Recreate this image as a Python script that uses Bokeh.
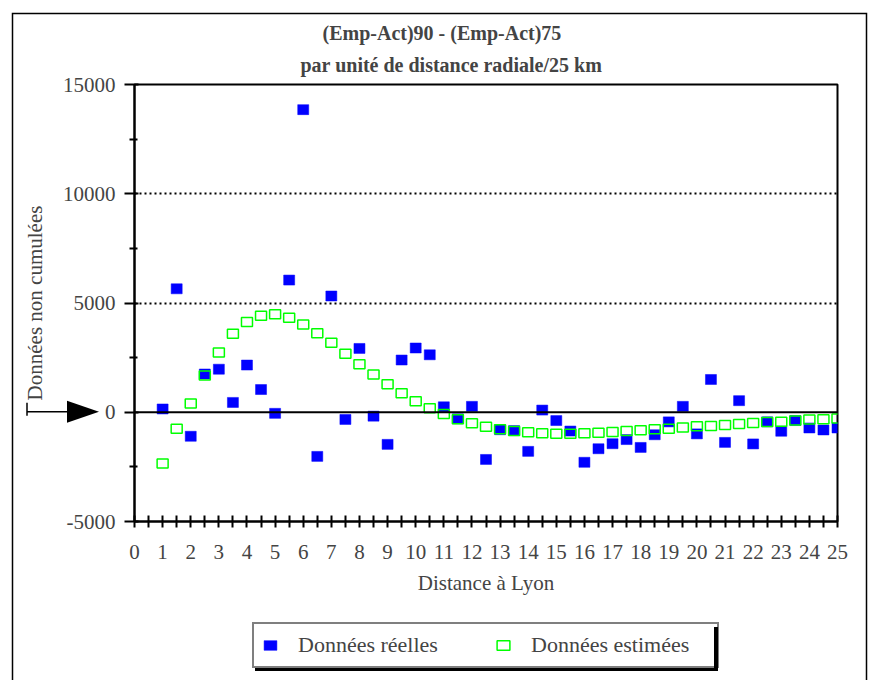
from bokeh.plotting import figure
from bokeh.layouts import column
from bokeh.models import (FixedTicker, Span, Legend, LegendItem, Title, Range1d,
                          ColumnDataSource, PrintfTickFormatter, InlineStyleSheet)
from bokeh.embed import file_html
from bokeh.resources import INLINE

# ---- data ----
distance = [1, 1.5, 2, 2.5, 3, 3.5, 4, 4.5, 5, 5.5, 6, 6.5, 7, 7.5, 8, 8.5, 9, 9.5,
            10, 10.5, 11, 11.5, 12, 12.5, 13, 13.5, 14, 14.5, 15, 15.5, 16, 16.5,
            17, 17.5, 18, 18.5, 19, 19.5, 20, 20.5, 21, 21.5, 22, 22.5, 23, 23.5,
            24, 24.5, 25]
reelles = [150, 5650, -1100, 1750, 1970, 450, 2160, 1040, -50, 6050, 13850, -2020,
           5320, -330, 2920, -180, -1470, 2390, 2940, 2630, 250, -300, 270, -2160,
           -800, -840, -1790, 100, -380, -860, -2290, -1670, -1440, -1250, -1610,
           -1030, -440, 270, -990, 1500, -1380, 530, -1450, -440, -870, -380, -720,
           -810, -720]
estimees = [-2340, -750, 400, 1680, 2740, 3590, 4130, 4420, 4480, 4330, 4020, 3620,
            3180, 2680, 2200, 1730, 1280, 870, 505, 185, -75, -320, -505, -660,
            -780, -855, -920, -960, -980, -980, -960, -935, -900, -855, -825, -780,
            -750, -700, -640, -630, -585, -535, -490, -445, -430, -380, -335, -320,
            -290]
x_tick_values = list(range(0, 26))
x_minor_ticks = [v + 0.5 for v in range(0, 25)]
y_tick_values = [-5000, 0, 5000, 10000, 15000]
y_minor_ticks = [-2500, 2500, 7500, 12500]
grid_values = [5000, 10000]

title1 = "(Emp-Act)90 - (Emp-Act)75"
title2 = "par unité de distance radiale/25 km"
x_label = "Distance à Lyon"
y_label = "Données non cumulées"
name_reel = "Données réelles"
name_est = "Données estimées"

FONT = "Liberation Serif"
W, H = 874, 680
H_MAIN, H_LEG = 600, 80
LEFT, RIGHT, TOP = 134, 37, 84
BOTTOM = H_MAIN - 521
X0, X1, Y0, Y1 = 0, 25, -5000, 15000
BLUE, GREEN = "#0000ff", "#00ff00"

src = ColumnDataSource(dict(x=distance, reel=reelles, est=estimees))

p = figure(width=W, height=H_MAIN, output_backend="svg", toolbar_location=None,
           x_range=Range1d(X0, X1), y_range=Range1d(Y0, Y1),
           min_border_left=LEFT, min_border_right=RIGHT, min_border_top=TOP,
           min_border_bottom=BOTTOM)
p.background_fill_color = "white"
p.border_fill_color = "white"
p.outline_line_color = "black"
p.outline_line_width = 2

# grid
p.xgrid.visible = False
p.ygrid.ticker = FixedTicker(ticks=grid_values)
p.ygrid.grid_line_color = "black"
p.ygrid.grid_line_width = 2
p.ygrid.grid_line_dash = "2 3"

# zero line
p.add_layout(Span(location=0, dimension="width", line_color="black", line_width=2))

# axes
xa = p.xaxis[0]
xa.ticker = FixedTicker(ticks=x_tick_values, minor_ticks=x_minor_ticks)
xa.axis_line_width = 2
xa.major_tick_in = 6
xa.major_tick_out = 6
xa.minor_tick_in = 6
xa.minor_tick_out = 6
xa.major_tick_line_width = 2
xa.minor_tick_line_width = 2
xa.major_label_text_font = FONT
xa.major_label_text_font_size = "21px"
xa.major_label_standoff = 17
xa.axis_label = x_label
xa.axis_label_text_font = FONT
xa.axis_label_text_font_style = "normal"
xa.axis_label_text_font_size = "21px"
xa.axis_label_standoff = 9

ya = p.yaxis[0]
ya.ticker = FixedTicker(ticks=y_tick_values, minor_ticks=y_minor_ticks)
ya.formatter = PrintfTickFormatter(format="%d")
ya.axis_line_width = 2
ya.major_tick_in = 4
ya.major_tick_out = 10
ya.minor_tick_in = 3
ya.minor_tick_out = 5
ya.major_tick_line_width = 2
ya.minor_tick_line_width = 2
ya.major_label_text_font = FONT
ya.major_label_text_font_size = "21px"
ya.major_label_standoff = 9
ya.axis_label = y_label
ya.axis_label_text_font = FONT
ya.axis_label_text_font_style = "normal"
ya.axis_label_text_font_size = "21px"
ya.axis_label_standoff = 13

# data
reel_style = dict(width=11, height=10, width_units="screen", height_units="screen",
                  fill_color=BLUE, line_color=BLUE, line_width=0.5)
est_style = dict(width=11, height=9, width_units="screen", height_units="screen",
                 fill_color=None, line_color=GREEN, line_width=1.5)
p.rect("x", "reel", source=src, **reel_style)
p.rect("x", "est", source=src, **est_style)

# titles (nearest to frame first)
p.add_layout(Title(text=title2, align="left", offset=166, standoff=17,
                   text_font=FONT, text_font_style="bold", text_font_size="20px"), "above")
p.add_layout(Title(text=title1, align="left", offset=188, standoff=0,
                   text_font=FONT, text_font_style="bold", text_font_size="20px"), "above")

# ---- legend strip under the chart (frames are aligned with the chart above) ----
pl = figure(width=W, height=H_LEG, output_backend="svg", toolbar_location=None,
            x_range=Range1d(-100, -99), y_range=Range1d(-100, -99),
            x_axis_location=None, y_axis_location=None, min_border=0)
pl.grid.visible = False
pl.outline_line_color = None
pl.background_fill_color = "white"
pl.border_fill_color = "white"
# same series, outside this strip's ranges: only their legend swatches show
l_reel = pl.rect("x", "reel", source=src, **reel_style)
l_est = pl.rect("x", "est", source=src, **est_style)
legend = Legend(items=[LegendItem(label=name_reel, renderers=[l_reel]),
                       LegendItem(label=name_est, renderers=[l_est])],
                orientation="horizontal", location=(118, 12),
                label_text_font=FONT, label_text_font_size="22px",
                glyph_width=16, glyph_height=12, label_standoff=20,
                label_width=178, spacing=19, padding=8, margin=0,
                border_line_color="black", border_line_width=2,
                background_fill_color="white", background_fill_alpha=1)
pl.add_layout(legend, "center")

# decorative overlay (outer box, arrow pointing at y=0, legend shadow) as CSS/SVG
frame_h = H_MAIN - TOP - BOTTOM
y_zero = TOP + (Y1 - 0) / (Y1 - Y0) * frame_h
svg = (
    f"<svg xmlns='http://www.w3.org/2000/svg' width='{W}' height='{H}'>"
    f"<path d='M12.5 {H} V13.5 H866.5 V{H}' fill='none' stroke='black' stroke-width='1.5'/>"
    f"<path d='M27 {y_zero - 9} V{y_zero + 4}' stroke='black' stroke-width='1.5'/>"
    f"<path d='M27 {y_zero} H70' stroke='black' stroke-width='1.5'/>"
    f"<path d='M67 {y_zero - 11} L99 {y_zero} L67 {y_zero + 11} Z' fill='black'/>"
    f"<path d='M714 627 H718 V671 H255 V668 H714 Z' fill='black'/>"
    "</svg>"
)
svg_uri = svg.replace("<", "%3C").replace(">", "%3E").replace("#", "%23")
css = (
    ":host { position: relative; }\n"
    ":host::after { content: ''; position: absolute; left: 0; top: 0; "
    f"width: {W}px; height: {H}px; pointer-events: none; z-index: 100; "
    f"background-image: url(\"data:image/svg+xml;utf8,{svg_uri}\"); "
    "background-repeat: no-repeat; }\n"
)
layout = column(p, pl, spacing=0, stylesheets=[InlineStyleSheet(css=css)])

open("out.html", "w").write(file_html(layout, INLINE))
